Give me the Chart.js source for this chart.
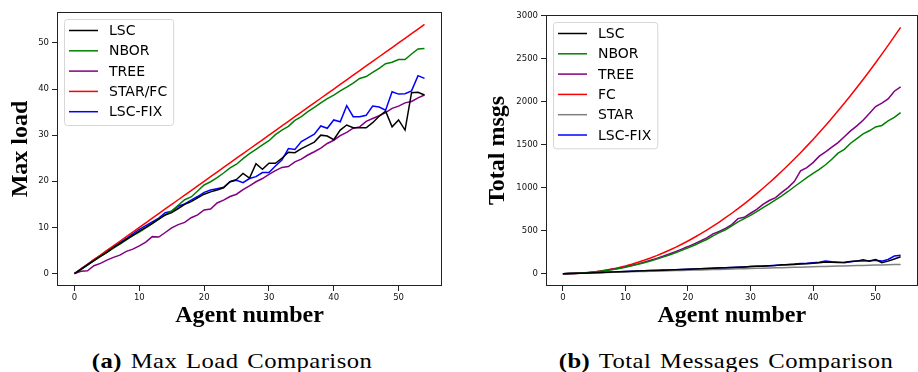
<!DOCTYPE html>
<html>
<head>
<meta charset="utf-8">
<script src="https://cdn.jsdelivr.net/npm/chart.js@4.4.0/dist/chart.umd.min.js"></script>
<style>
  html, body { margin: 0; padding: 0; background: #fff; overflow: hidden; }
  #wrap { position: relative; width: 918px; height: 372px; overflow: hidden; }
  canvas { position: absolute; top: 0; }
  .caption { position: absolute; top: 348px; font-family: "Liberation Serif", serif; font-size: 22px;
             line-height: 26px; letter-spacing: 0.4px; word-spacing: 2px; white-space: nowrap;
             transform: translateX(-50%) scaleX(1.12); color: #000; }
</style>
</head>
<body>
<div id="wrap">
  <canvas id="loadChart" width="450" height="334" style="left:0px"></canvas>
  <canvas id="msgChart" width="458" height="334" style="left:460px"></canvas>
  <div class="caption" style="left:232px"><b>(a)</b> Max Load Comparison</div>
  <div class="caption" style="left:726px"><b>(b)</b> Total Messages Comparison</div>
</div>
<script>
// x values (number of agents)
const agents = [0,1,2,3,4,5,6,7,8,9,10,11,12,13,14,15,16,17,18,19,20,21,22,23,24,25,26,27,
  28,29,30,31,32,33,34,35,36,37,38,39,40,41,42,43,44,45,46,47,48,49,50,51,52,53,54];

// (a) max load
const loadLSC = [0,0.9,1.9,2.8,3.7,4.6,5.6,6.5,7.4,8.3,9.2,10.0,10.9,11.8,12.7,13.2,14.1,15.0,15.6,16.4,
  17.2,17.7,18.1,18.6,19.9,20.4,21.7,20.7,23.8,22.6,23.9,23.9,25.0,26.3,26.2,27.1,27.8,28.5,30.0,29.8,
  29.0,31.1,32.2,31.6,31.6,31.6,32.7,34.1,35.2,31.8,33.3,31.1,39.2,39.3,38.7];
const loadNBOR = [0,0.9,1.8,2.8,3.7,4.6,5.5,6.4,7.3,8.2,9.0,9.9,10.8,11.8,12.7,13.6,14.8,16.0,16.6,17.9,
  19.2,19.9,20.8,21.8,22.9,23.7,24.9,26.0,26.9,27.9,28.8,30.1,31.1,31.9,33.2,34.0,35.1,36.0,37.0,37.9,
  38.7,39.6,40.4,41.3,42.3,42.7,43.6,44.5,45.5,45.8,46.4,46.4,47.6,48.7,48.8];
const loadTREE = [0,0.5,0.6,1.7,2.2,2.9,3.5,4.0,4.8,5.3,6.0,6.8,8.0,7.9,8.9,9.9,10.6,11.1,12.1,12.7,
  13.8,14.0,15.3,15.9,16.7,17.2,18.2,19.0,19.9,20.6,21.5,22.3,23.0,23.2,24.2,24.8,25.7,26.4,27.2,28.2,
  28.9,29.9,30.6,31.5,31.8,33.0,33.6,34.2,34.9,35.8,36.3,37.0,37.3,38.1,38.7];
const loadSTARFC = [0,1,2,3,4,5,6,7,8,9,10,11,12,13,14,15,16,17,18,19,20,21,22,23,24,25,26,27,
  28,29,30,31,32,33,34,35,36,37,38,39,40,41,42,43,44,45,46,47,48,49,50,51,52,53,54];
const loadLSCFIX = [0,1.0,2.0,3.0,3.9,4.9,5.8,6.7,7.6,8.6,9.6,10.4,11.2,12.0,13.2,13.5,14.6,15.1,15.9,16.7,
  17.6,18.1,18.4,18.7,19.9,20.2,19.7,20.6,21.0,21.9,21.9,23.3,24.6,27.1,26.9,28.6,29.4,30.2,32.0,31.5,
  33.3,32.9,36.4,34.0,34.0,34.3,36.3,36.1,35.4,39.4,38.9,39.0,39.6,42.9,42.3];

// (b) total messages
const msgLSC = [0,2,4,6,9,11,14,17,19,22,25,28,31,33,36,38,41,43,46,48,
  51,54,57,60,63,67,69,72,75,79,82,86,87,92,96,104,105,108,112,116,
  121,126,135,132,130,133,141,146,162,146,164,128,146,170,196];
const msgNBOR = [0,1,3,7,12,19,27,37,48,61,75,91,108,127,147,169,192,217,243,271,
  300,331,363,397,440,477,508,555,601,640,678,722,767,810,857,903,955,1010,1062,1115,
  1165,1212,1265,1330,1400,1445,1515,1570,1625,1660,1705,1722,1775,1815,1872];
const msgTREE = [0,1,3,7,13,20,28,39,51,64,79,96,114,134,155,178,202,228,256,285,
  315,347,380,415,462,490,527,570,640,655,702,748,806,850,884,945,1000,1070,1194,1232,
  1290,1365,1415,1470,1523,1590,1659,1717,1783,1860,1942,1981,2030,2120,2170];
const msgFC = [0,0,2,6,12,20,30,42,56,72,90,110,132,156,182,210,240,272,306,342,
  380,420,462,506,552,600,650,702,756,812,870,930,992,1056,1122,1190,1260,1332,1406,1482,
  1560,1640,1722,1806,1892,1980,2070,2162,2256,2352,2450,2550,2652,2756,2862];
const msgSTAR = [0,2,4,6,8,10,12,14,16,18,20,22,24,26,28,30,32,34,36,38,
  40,42,44,46,48,50,52,54,56,58,60,62,64,66,68,70,72,74,76,78,
  80,82,84,86,88,90,92,94,96,98,100,102,104,106,108];
const msgLSCFIX = [0,2,4,7,9,12,14,17,20,22,25,28,31,34,36,39,42,44,47,49,
  52,55,58,61,64,68,70,73,76,79,83,86,89,93,98,101,108,112,118,121,
  127,134,146,138,134,127,139,146,147,150,156,146,165,205,215];

// tick labels
const xTicks = [0, 10, 20, 30, 40, 50];
const loadTicks = [0, 10, 20, 30, 40, 50];
const msgTicks = [0, 500, 1000, 1500, 2000, 2500, 3000];

const pts = vals => agents.map((a, i) => ({ x: a, y: vals[i] }));
const line = (label, vals, color) => ({
  label, data: pts(vals), borderColor: color, backgroundColor: color,
  borderWidth: 1.5, pointRadius: 0, tension: 0, fill: false
});

// box around the plot + matplotlib style legend inside it
const frameAndLegend = {
  id: 'frameAndLegend',
  afterDatasetsDraw(chart) {
    const { ctx, chartArea: a } = chart;
    ctx.save();
    ctx.strokeStyle = '#222';
    ctx.lineWidth = 1;
    ctx.strokeRect(Math.round(a.left) + 0.5, Math.round(a.top) + 0.5,
      Math.round(a.right - a.left) - 1, Math.round(a.bottom - a.top) - 1);

    const items = chart.data.datasets;
    ctx.font = '14px "DejaVu Sans"';
    const tw = Math.max(...items.map(d => ctx.measureText(d.label).width));
    const bx = a.left + 7, by = a.top + 7;
    const rowH = 20.3;
    const bw = 5 + 29 + 11 + tw + 6;
    const bh = items.length * rowH + 4.5;
    ctx.beginPath();
    ctx.roundRect(bx + 0.5, by + 0.5, bw, bh, 3);
    ctx.fillStyle = 'rgba(255,255,255,0.8)';
    ctx.fill();
    ctx.strokeStyle = '#d6d6d6';
    ctx.stroke();
    items.forEach((d, i) => {
      const cy = by + 11.5 + i * rowH;
      ctx.beginPath();
      ctx.moveTo(bx + 5, cy);
      ctx.lineTo(bx + 34, cy);
      ctx.strokeStyle = d.borderColor;
      ctx.lineWidth = 1.5;
      ctx.stroke();
      ctx.fillStyle = '#000';
      ctx.textBaseline = 'middle';
      ctx.fillText(d.label, bx + 45, cy + 1);
    });
    ctx.restore();
  }
};

function makeChart(id, datasets, yMin, yMax, yTicks, yTitle, yAxisW, top, right, titlePad) {
  return new Chart(document.getElementById(id), {
    type: 'line',
    data: { datasets },
    plugins: [frameAndLegend],
    options: {
      responsive: false,
      animation: false,
      layout: { padding: { top, right, left: 0, bottom: 0 } },
      plugins: { legend: { display: false }, tooltip: { enabled: false } },
      scales: {
        x: {
          type: 'linear', min: -2.7, max: 56.7,
          afterBuildTicks: s => { s.ticks = xTicks.map(v => ({ value: v })); },
          afterFit: s => { s.height = 48; },
          grid: { drawOnChartArea: false, drawTicks: true, tickLength: 5, color: '#222' },
          border: { display: false },
          ticks: { color: '#111', padding: 2, maxRotation: 0, callback: v => String(v),
                   font: { family: 'DejaVu Sans', size: 8.5 } },
          title: { display: true, text: 'Agent number', color: '#000', padding: { top: 0, bottom: 4 },
                   font: { family: 'Liberation Serif', weight: 'bold', size: 24 } }
        },
        y: {
          min: yMin, max: yMax,
          afterBuildTicks: s => { s.ticks = yTicks.map(v => ({ value: v })); },
          afterFit: s => { s.width = yAxisW; },
          grid: { drawOnChartArea: false, drawTicks: true, tickLength: 5, color: '#222' },
          border: { display: false },
          ticks: { color: '#111', padding: 3, callback: v => String(v),
                   font: { family: 'DejaVu Sans', size: 8.5 } },
          title: { display: true, text: yTitle, color: '#000', padding: { top: titlePad, bottom: 0 },
                   font: { family: 'Liberation Serif', weight: 'bold', size: 24 } }
        }
      }
    }
  });
}

makeChart('loadChart', [
  line('LSC', loadLSC, '#000000'),
  line('NBOR', loadNBOR, '#008000'),
  line('TREE', loadTREE, '#800080'),
  line('STAR/FC', loadSTARFC, '#ff0000'),
  line('LSC-FIX', loadLSCFIX, '#0000ff')
], -2.7, 56.7, loadTicks, 'Max load', 57, 12, 8, 6);

makeChart('msgChart', [
  line('LSC', msgLSC, '#000000'),
  line('NBOR', msgNBOR, '#008000'),
  line('TREE', msgTREE, '#800080'),
  line('FC', msgFC, '#ff0000'),
  line('STAR', msgSTAR, '#808080'),
  line('LSC-FIX', msgLSCFIX, '#0000ff')
], -143.1, 3005.1, msgTicks, 'Total msgs', 86, 15, 0.5, 23);
</script>
</body>
</html>
